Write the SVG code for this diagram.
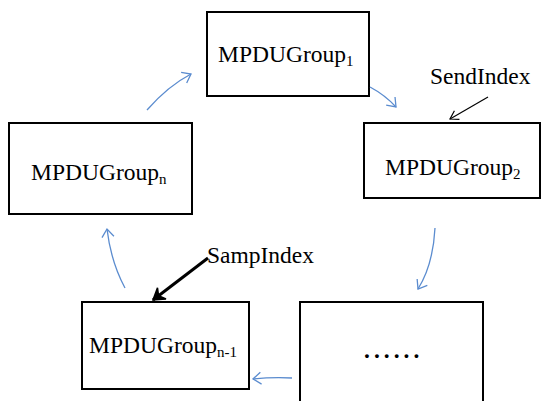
<svg xmlns="http://www.w3.org/2000/svg" width="543" height="401" viewBox="0 0 543 401">
<style>
.box{fill:#fff;stroke:#000;stroke-width:2}
.t{font-family:"Liberation Serif","Times New Roman",serif;font-size:23.5px;fill:#000}
.sub{font-size:15px}
.blue{fill:none;stroke:#5b8ccf;stroke-width:1.3}
</style>
<defs>
<marker id="ab" markerUnits="userSpaceOnUse" markerWidth="20" markerHeight="20" refX="10" refY="10" orient="auto" viewBox="0 0 20 20">
<path d="M2,4 L10,10 L2,16" fill="none" stroke="#5b8ccf" stroke-width="1.3"/>
</marker>
<marker id="ak" markerUnits="userSpaceOnUse" markerWidth="20" markerHeight="20" refX="10" refY="10" orient="auto" viewBox="0 0 20 20">
<path d="M2,5 L10,10 L2,15" fill="none" stroke="#000" stroke-width="1.2"/>
</marker>
<marker id="akb" markerUnits="userSpaceOnUse" markerWidth="24" markerHeight="24" refX="12" refY="12" orient="auto" viewBox="0 0 24 24">
<path d="M1,5 L12,12 L1,19 L5,12 Z" fill="#000" stroke="#000" stroke-width="1.5" stroke-linejoin="miter"/>
</marker>
</defs>
<g id="node-1">
<rect class="box" x="207" y="12" width="162" height="84"/>
<text class="t" x="218" y="62">MPDUGroup<tspan class="sub" dy="4">1</tspan></text>
</g>
<g id="node-2">
<rect class="box" x="364" y="123" width="176" height="75"/>
<text class="t" x="385" y="175">MPDUGroup<tspan class="sub" dy="4">2</tspan></text>
</g>
<g id="node-n">
<rect class="box" x="9" y="123" width="183" height="91"/>
<text class="t" x="31" y="180">MPDUGroup<tspan class="sub" dy="4">n</tspan></text>
</g>
<g id="node-n-1">
<rect class="box" x="82" y="302" width="167" height="87"/>
<text class="t" x="89" y="353">MPDUGroup<tspan class="sub" dy="4">n-1</tspan></text>
</g>
<g id="node-dots">
<rect class="box" x="300" y="302" width="183" height="130"/>
<text class="t" x="364" y="358" font-weight="bold" letter-spacing="4">......</text>
</g>
<g id="labels">
<text class="t" x="430" y="84">SendIndex</text>
<text class="t" x="207" y="263">SampIndex</text>
</g>
<g id="connectors">
<path class="blue" d="M147,110 Q168,86 191,74" marker-end="url(#ab)"/>
<path class="blue" d="M370,87 Q385,95 396,107" marker-end="url(#ab)"/>
<path class="blue" d="M435,228 Q433,265 418,289" marker-end="url(#ab)"/>
<path class="blue" d="M292,378 Q272,377 253,379" marker-end="url(#ab)"/>
<path class="blue" d="M125,288 Q111,262 107,229" marker-end="url(#ab)"/>
<path d="M488,97 L450,119" fill="none" stroke="#000" stroke-width="1.2" marker-end="url(#ak)"/>
<path d="M208,258 L153,300" fill="none" stroke="#000" stroke-width="3" marker-end="url(#akb)"/>
</g>
</svg>
